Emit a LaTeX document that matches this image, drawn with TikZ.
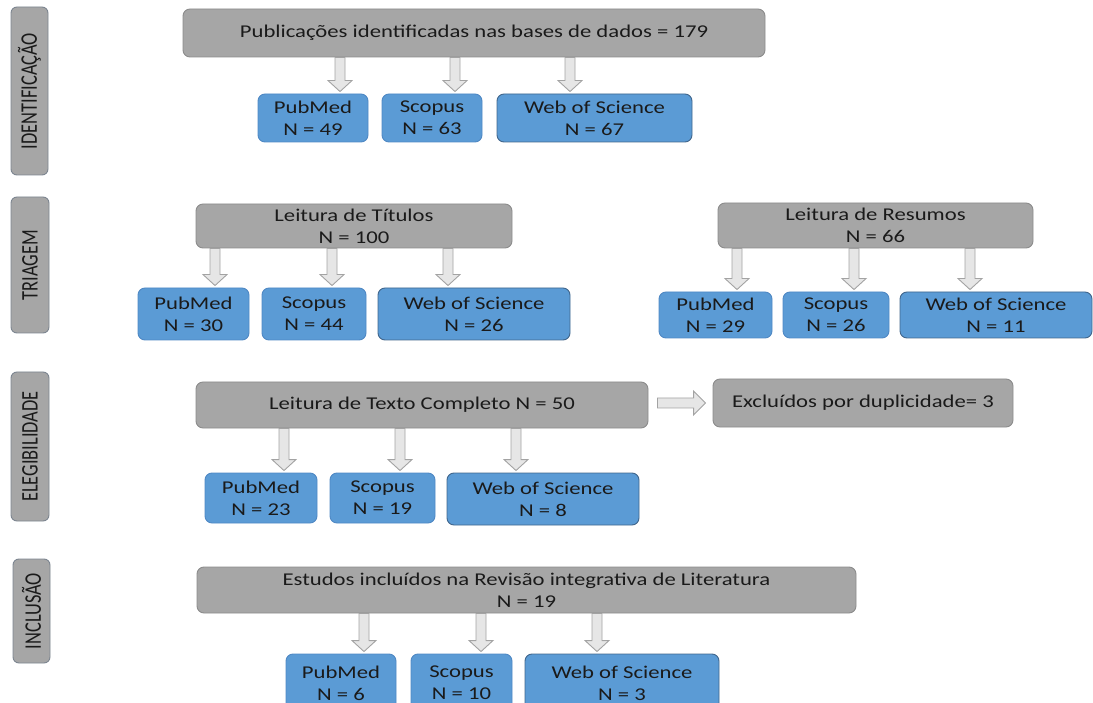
\documentclass[tikz,border=0pt]{standalone}
\usepackage{fontspec}
\setmainfont{Carlito}[FakeStretch=1.26]
\newfontfamily\sidefont{Carlito}
\usetikzlibrary{calc}
\definecolor{boxgray}{HTML}{A6A6A6}
\definecolor{boxgrayline}{HTML}{8C8C8C}
\definecolor{sideline}{HTML}{7C8590}
\definecolor{boxblue}{HTML}{5B9BD5}
\definecolor{blueline}{HTML}{4F88C4}
\definecolor{bluedark}{HTML}{41668C}
\definecolor{arrfill}{HTML}{E6E6E6}
\definecolor{arrline}{HTML}{A3A3A3}
\definecolor{txt}{HTML}{1A1A1A}
\newcommand\mybox[7]{\node[#1, minimum width={#4-#3}, minimum height={#6-#5}] (#2) at ({(#3+#4)/2},{(#5+#6)/2}) {#7};}
\newcommand\sidetxt[1]{\rotatebox{90}{\scalebox{1.02}[1.32]{\sidefont #1}}}
\tikzset{
  base/.style={rounded corners=7pt, inner sep=0pt, align=center, text=txt,
    font=\fontsize{18pt}{22pt}\selectfont, line width=0.9pt},
  graybox/.style={base, fill=boxgray, draw=boxgrayline},
  bluebox/.style={base, fill=boxblue, draw=blueline},
  bluewide/.style={base, fill=boxblue, draw=bluedark},
  sidebox/.style={base, rounded corners=6pt, fill=boxgray, draw=sideline},
  downarr/.style={draw=arrline, fill=arrfill, line width=0.9pt,
    to path={let \p1=(\tikztostart), \p2=(\tikztotarget) in
      ({\x1-5pt},\y1) -- ({\x1-5pt},{\y2+13pt}) -- ({\x1-12pt},{\y2+13pt})
      -- (\x1,{\y2+2pt}) -- ({\x1+12pt},{\y2+13pt}) -- ({\x1+5pt},{\y2+13pt})
      -- ({\x1+5pt},\y1) -- cycle}},
  rightarr/.style={draw=arrline, fill=arrfill, line width=0.9pt,
    to path={let \p1=(\tikztostart), \p2=(\tikztotarget) in
      (\x1,{\y1+5pt}) -- ({\x2-12pt},{\y1+5pt}) -- ({\x2-12pt},{\y1+12pt})
      -- (\x2,\y1) -- ({\x2-12pt},{\y1-12pt}) -- ({\x2-12pt},{\y1-5pt})
      -- (\x1,{\y1-5pt}) -- cycle}}
}
\begin{document}
\begin{tikzpicture}[x=1pt,y=-1pt]
\useasboundingbox (0,0) rectangle (1093,703);
\clip (0,0) rectangle (1093,703);
% side labels
\mybox{sidebox}{s1}{11}{48}{7}{175}{\sidetxt{IDENTIFICAÇÃO}}
\mybox{sidebox}{s2}{11}{49}{197}{333}{\sidetxt{TRIAGEM}}
\mybox{sidebox}{s3}{11}{49}{372}{521}{\sidetxt{ELEGIBILIDADE}}
\mybox{sidebox}{s4}{13}{50}{559}{663}{\sidetxt{INCLUSÃO}}
% identificacao
\mybox{graybox}{top}{183}{765}{9}{57}{Publicações identificadas nas bases de dados = 179}
\mybox{bluebox}{p1}{258}{368}{94}{142}{PubMed\\N = 49}
\mybox{bluebox}{c1}{382}{482}{94}{142}{Scopus\\N = 63}
\mybox{bluewide}{w1}{497}{692}{94}{142}{Web of Science\\N = 67}
% triagem
\mybox{graybox}{lt}{196}{512}{204}{248}{Leitura de Títulos\\N = 100}
\mybox{bluebox}{p2}{138}{249}{288}{340}{PubMed\\N = 30}
\mybox{bluebox}{c2}{262}{366}{288}{340}{Scopus\\N = 44}
\mybox{bluewide}{w2}{378}{570}{288}{340}{Web of Science\\N = 26}
\mybox{graybox}{lr}{718}{1033}{203}{248}{Leitura de Resumos\\N = 66}
\mybox{bluebox}{p3}{659}{772}{292}{338}{PubMed\\N = 29}
\mybox{bluebox}{c3}{783}{889}{292}{338}{Scopus\\N = 26}
\mybox{bluewide}{w3}{900}{1092}{292}{338}{Web of Science\\N = 11}
% elegibilidade
\mybox{graybox}{tc}{196}{648}{382}{428}{Leitura de Texto Completo N = 50}
\mybox{graybox}{ex}{713}{1013}{379}{427}{Excluídos por duplicidade= 3}
\mybox{bluebox}{p4}{205}{317}{473}{523}{PubMed\\N = 23}
\mybox{bluebox}{c4}{330}{435}{473}{523}{Scopus\\N = 19}
\mybox{bluewide}{w4}{447}{639}{473}{525}{Web of Science\\N = 8}
% inclusao
\mybox{graybox}{es}{197}{856}{567}{613}{Estudos incluídos na Revisão integrativa de Literatura\\N = 19}
\mybox{bluebox}{p5}{286}{396}{654}{712}{PubMed\\N = 6}
\mybox{bluebox}{c5}{411}{512}{654}{712}{Scopus\\N = 10}
\mybox{bluewide}{w5}{525}{719}{654}{712}{Web of Science\\N = 3}
% arrow positions
\foreach \n/\x in {a1/340,a2/455,a3/570,b1/215,b2/332,b3/448,d1/737,d2/854,d3/970,e1/284,e2/400,e3/516,f1/364,f2/481,f3/597}
  \coordinate (\n) at (\x,0);
\draw[downarr] (top.south -| a1) to (p1.north -| a1);
\draw[downarr] (top.south -| a2) to (c1.north -| a2);
\draw[downarr] (top.south -| a3) to (w1.north -| a3);
\draw[downarr] (lt.south -| b1) to (p2.north -| b1);
\draw[downarr] (lt.south -| b2) to (c2.north -| b2);
\draw[downarr] (lt.south -| b3) to (w2.north -| b3);
\draw[downarr] (lr.south -| d1) to (p3.north -| d1);
\draw[downarr] (lr.south -| d2) to (c3.north -| d2);
\draw[downarr] (lr.south -| d3) to (w3.north -| d3);
\draw[downarr] (tc.south -| e1) to (p4.north -| e1);
\draw[downarr] (tc.south -| e2) to (c4.north -| e2);
\draw[downarr] (tc.south -| e3) to (w4.north -| e3);
\draw[downarr] (es.south -| f1) to (p5.north -| f1);
\draw[downarr] (es.south -| f2) to (c5.north -| f2);
\draw[downarr] (es.south -| f3) to (w5.north -| f3);
\coordinate (h0) at ($(tc.east)+(9,-2)$);
\coordinate (h1) at ($(ex.west)+(-7,0)$);
\draw[rightarr] (h0) to (h1);
\end{tikzpicture}
\end{document}
